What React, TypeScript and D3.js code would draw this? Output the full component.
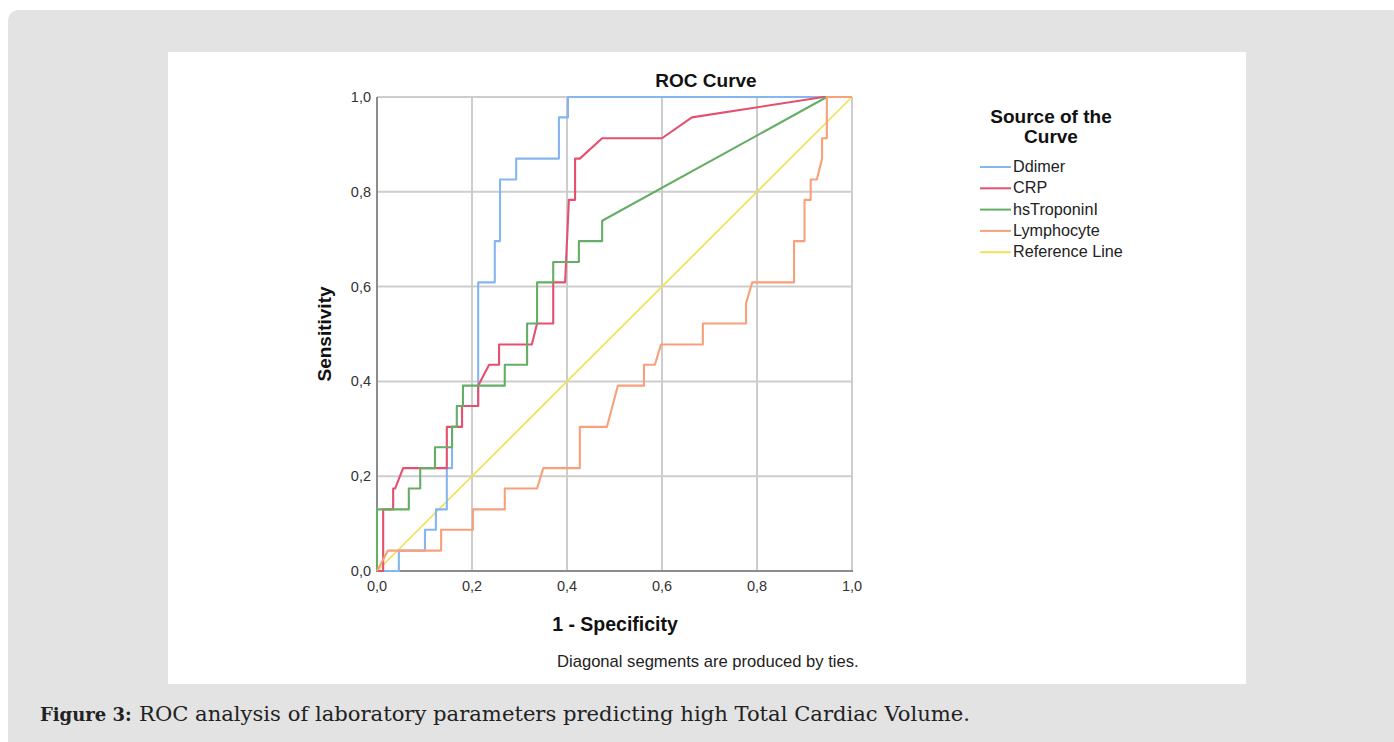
import React from 'react';
import * as d3 from 'd3';

// ROC points: [1 - specificity, sensitivity]
const ddimer: [number, number][] = [
    [0, 0], [0.046, 0], [0.046, 0.043], [0.101, 0.043], [0.101, 0.087],
    [0.124, 0.087], [0.124, 0.13], [0.147, 0.13], [0.147, 0.217],
    [0.158, 0.217], [0.158, 0.304], [0.179, 0.304], [0.179, 0.348],
    [0.213, 0.348], [0.213, 0.609], [0.248, 0.609], [0.248, 0.696],
    [0.259, 0.696], [0.259, 0.826], [0.293, 0.826], [0.293, 0.87],
    [0.383, 0.87], [0.383, 0.957], [0.402, 0.957], [0.402, 1], [1, 1]
];

const crp: [number, number][] = [
    [0, 0], [0.013, 0], [0.013, 0.13], [0.034, 0.13], [0.034, 0.174],
    [0.038, 0.174], [0.055, 0.217], [0.147, 0.217], [0.147, 0.304],
    [0.179, 0.304], [0.179, 0.348], [0.213, 0.348], [0.213, 0.391],
    [0.236, 0.435], [0.257, 0.435], [0.257, 0.478], [0.326, 0.478],
    [0.337, 0.522], [0.371, 0.522], [0.371, 0.609], [0.396, 0.609],
    [0.404, 0.783], [0.417, 0.783], [0.417, 0.87], [0.427, 0.87],
    [0.474, 0.913], [0.6, 0.913], [0.663, 0.957], [0.94, 1], [1, 1]
];

const troponin: [number, number][] = [
    [0, 0], [0, 0.13], [0.067, 0.13], [0.067, 0.174], [0.091, 0.174],
    [0.091, 0.217], [0.122, 0.217], [0.122, 0.261], [0.158, 0.261],
    [0.158, 0.304], [0.168, 0.304], [0.168, 0.348], [0.181, 0.348],
    [0.181, 0.391], [0.269, 0.391], [0.269, 0.435], [0.316, 0.435],
    [0.316, 0.522], [0.337, 0.522], [0.337, 0.609], [0.371, 0.609],
    [0.371, 0.652], [0.425, 0.652], [0.425, 0.696], [0.474, 0.696],
    [0.474, 0.739], [0.947, 1], [1, 1]
];

const lymphocyte: [number, number][] = [
    [0, 0], [0.023, 0.043], [0.135, 0.043], [0.135, 0.087], [0.202, 0.087],
    [0.202, 0.13], [0.269, 0.13], [0.269, 0.174], [0.337, 0.174],
    [0.35, 0.217], [0.427, 0.217], [0.427, 0.304], [0.484, 0.304],
    [0.507, 0.391], [0.562, 0.391], [0.562, 0.435], [0.585, 0.435],
    [0.598, 0.478], [0.686, 0.478], [0.686, 0.522], [0.777, 0.522],
    [0.777, 0.565], [0.79, 0.609], [0.878, 0.609], [0.878, 0.696],
    [0.9, 0.696], [0.9, 0.783], [0.913, 0.783], [0.913, 0.826],
    [0.926, 0.826], [0.937, 0.87], [0.937, 0.913], [0.947, 0.913],
    [0.947, 1], [1, 1]
];

const referenceLine: [number, number][] = [[0, 0], [1, 1]];

const seriesNames = ['Ddimer', 'CRP', 'hsTroponinI', 'Lymphocyte', 'Reference Line'];
const seriesColors = ['#86b6ef', '#e5506f', '#66ad66', '#f8a07b', '#ede35a'];
const tickValues = [0, 0.2, 0.4, 0.6, 0.8, 1.0];

const W = 1394;
const H = 742;
const sans = '"Liberation Sans", Arial, sans-serif';
const serif = '"DejaVu Serif", serif';

const locale = d3.formatLocale({
    decimal: ',',
    thousands: '.',
    grouping: [3],
    currency: ['', '']
});
const fmt = locale.format('.1f');

export default function App() {
    const x = d3.scaleLinear().domain([0, 1]).range([377, 852]);
    const y = d3.scaleLinear().domain([0, 1]).range([571, 97]);

    const line = d3
        .line<[number, number]>()
        .x((d) => x(d[0]))
        .y((d) => y(d[1]));

    const curves = [ddimer, crp, troponin, lymphocyte, referenceLine];
    const draw = [4, 0, 1, 2, 3]; // reference line underneath

    return (
        <svg
            width={W}
            height={H}
            style={{ position: 'absolute', left: 0, top: 0 }}
        >
            <rect x={0} y={0} width={W} height={H} fill="#ffffff" />
            <rect x={8} y={10} width={W} height={H} rx={10} fill="#e3e3e3" />
            <rect x={168} y={52} width={1078} height={632} fill="#ffffff" />

            {/* grid */}
            <g stroke="#cdcdcd" strokeWidth={2}>
                {tickValues.slice(1).map((t) => (
                    <line key={'v' + t} x1={x(t)} x2={x(t)} y1={y(1)} y2={y(0)} />
                ))}
                {tickValues.slice(1).map((t) => (
                    <line key={'h' + t} x1={x(0)} x2={x(1)} y1={y(t)} y2={y(t)} />
                ))}
            </g>
            <g stroke="#8c8c8c" strokeWidth={2}>
                <line x1={x(0)} x2={x(0)} y1={y(1)} y2={y(0) + 1} />
                <line x1={x(0) - 1} x2={x(1) + 1} y1={y(0)} y2={y(0)} />
            </g>

            {/* curves */}
            <g fill="none" strokeLinejoin="round">
                {draw.map((i) => (
                    <path
                        key={seriesNames[i]}
                        d={line(curves[i]) || ''}
                        stroke={seriesColors[i]}
                        strokeWidth={i === 4 ? 1.7 : 2.1}
                    />
                ))}
            </g>

            {/* tick labels */}
            <g fontFamily={sans} fontSize={14.5} fill="#333">
                {tickValues.map((t) => (
                    <text key={'xl' + t} x={x(t)} y={591} textAnchor="middle">
                        {fmt(t)}
                    </text>
                ))}
                {tickValues.map((t) => (
                    <text key={'yl' + t} x={371} y={y(t) + 5} textAnchor="end">
                        {fmt(t)}
                    </text>
                ))}
            </g>

            {/* titles */}
            <text
                x={706}
                y={87}
                textAnchor="middle"
                fontFamily={sans}
                fontWeight="bold"
                fontSize={19}
                fill="#111"
            >
                ROC Curve
            </text>
            <text
                x={615}
                y={631}
                textAnchor="middle"
                fontFamily={sans}
                fontWeight="bold"
                fontSize={19.5}
                fill="#111"
            >
                1 - Specificity
            </text>
            <text
                transform={`translate(331, 334) rotate(-90)`}
                textAnchor="middle"
                fontFamily={sans}
                fontWeight="bold"
                fontSize={19}
                fill="#111"
            >
                Sensitivity
            </text>
            <text
                x={557}
                y={667}
                fontFamily={sans}
                fontSize={16.6}
                fill="#222"
            >
                Diagonal segments are produced by ties.
            </text>

            {/* legend */}
            <g fontFamily={sans} fill="#111">
                <text x={1051} y={123} textAnchor="middle" fontWeight="bold" fontSize={19}>
                    Source of the
                </text>
                <text x={1051} y={143} textAnchor="middle" fontWeight="bold" fontSize={19}>
                    Curve
                </text>
                {seriesNames.map((name, i) => {
                    const ly = 167 + i * 21.3;
                    return (
                        <g key={name}>
                            <line
                                x1={980}
                                x2={1011}
                                y1={ly}
                                y2={ly}
                                stroke={seriesColors[i]}
                                strokeWidth={2}
                            />
                            <text x={1013} y={ly + 5} fontSize={16.2} fill="#222">
                                {name}
                            </text>
                        </g>
                    );
                })}
            </g>

            {/* caption */}
            <text x={40} y={721} fontFamily={serif} fontSize={18} fontWeight="bold" fill="#222">
                Figure 3:
            </text>
            <text
                x={139}
                y={721}
                fontFamily={serif}
                fontSize={20.5}
                fill="#222"
                textLength={831}
                lengthAdjust="spacingAndGlyphs"
            >
                ROC analysis of laboratory parameters predicting high Total Cardiac Volume.
            </text>
        </svg>
    );
}
